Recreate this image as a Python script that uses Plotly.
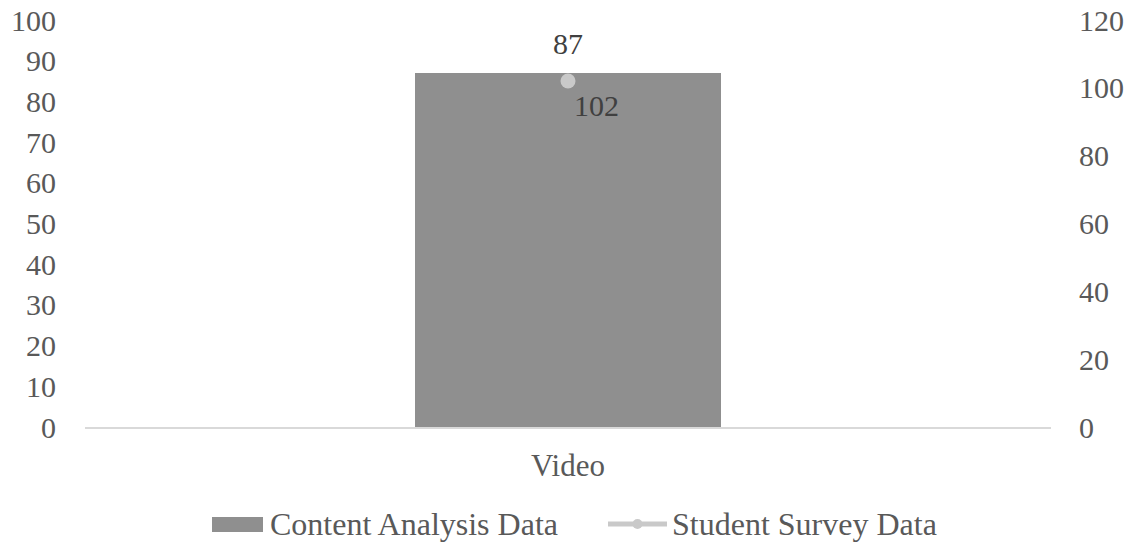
import plotly.graph_objects as go

# Data
categories = ["Video"]
content_analysis = [87]
student_survey = [102]
series_names = ["Content Analysis Data", "Student Survey Data"]

font_family = "Liberation Serif, Times New Roman, serif"
tick_color = "#595959"
label_color = "#404040"
bar_color = "#8F8F8F"
line_color = "#C9C9C9"

W, H = 1139, 542
M_L, M_R, M_T, M_B = 85, 88, 20, 115
PW, PH = W - M_L - M_R, H - M_T - M_B


def px_x(p):
    """Pixel column -> paper x."""
    return (p - M_L) / PW


def px_y(p):
    """Pixel row -> paper y."""
    return (H - M_B - p) / PH


fig = go.Figure()

fig.add_trace(go.Bar(
    x=categories,
    y=content_analysis,
    name=series_names[0],
    marker=dict(color=bar_color, line=dict(width=0)),
    width=0.316,
    yaxis="y",
    showlegend=False,
))

fig.add_trace(go.Scatter(
    x=categories,
    y=student_survey,
    name=series_names[1],
    mode="lines+markers",
    line=dict(color=line_color, width=5),
    marker=dict(color=line_color, size=15, symbol="circle"),
    yaxis="y2",
    showlegend=False,
))

# Value labels
for cat, v in zip(categories, content_analysis):
    fig.add_annotation(x=cat, y=v, xref="x", yref="y", text=str(v),
                       showarrow=False, yshift=29,
                       font=dict(family=font_family, size=30, color=label_color))
for cat, v in zip(categories, student_survey):
    fig.add_annotation(x=cat, y=v, xref="x", yref="y2", text=str(v),
                       showarrow=False, xshift=28, yshift=-24,
                       font=dict(family=font_family, size=30, color=label_color))

# Legend row below the chart
leg_y = 524
shapes = [
    dict(type="rect", xref="paper", yref="paper",
         x0=px_x(212), x1=px_x(263), y0=px_y(532), y1=px_y(517),
         fillcolor=bar_color, line=dict(width=0)),
    dict(type="line", xref="paper", yref="paper",
         x0=px_x(608), x1=px_x(667), y0=px_y(leg_y), y1=px_y(leg_y),
         line=dict(color=line_color, width=5)),
    dict(type="circle", xref="paper", yref="paper",
         x0=px_x(632.5), x1=px_x(642.5), y0=px_y(529), y1=px_y(519),
         fillcolor=line_color, line=dict(width=0)),
]
for name, x_left in zip(series_names, [268, 670]):
    fig.add_annotation(x=px_x(x_left), y=px_y(leg_y), xref="paper", yref="paper",
                       text=name, showarrow=False, xanchor="left", yanchor="middle",
                       font=dict(family=font_family, size=32, color=tick_color))

fig.update_layout(
    width=W,
    height=H,
    margin=dict(l=M_L, r=M_R, t=M_T, b=M_B, autoexpand=False),
    paper_bgcolor="white",
    plot_bgcolor="white",
    font=dict(family=font_family, size=30, color=tick_color),
    showlegend=False,
    shapes=shapes,
    xaxis=dict(
        showgrid=False,
        showline=True,
        linecolor="#D9D9D9",
        linewidth=2,
        ticks="",
        ticklabelstandoff=10,
        tickfont=dict(size=31, color=tick_color),
        automargin=False,
    ),
    yaxis=dict(
        range=[0, 100],
        dtick=10,
        showgrid=False,
        zeroline=False,
        showline=False,
        ticks="",
        ticklabelstandoff=28,
        tickfont=dict(size=30, color=tick_color),
        automargin=False,
    ),
    yaxis2=dict(
        range=[0, 120],
        dtick=20,
        overlaying="y",
        side="right",
        showgrid=False,
        zeroline=False,
        showline=False,
        ticks="",
        ticklabelstandoff=27,
        tickfont=dict(size=30, color=tick_color),
        automargin=False,
    ),
    bargap=0,
)

fig.write_html("out.html")
